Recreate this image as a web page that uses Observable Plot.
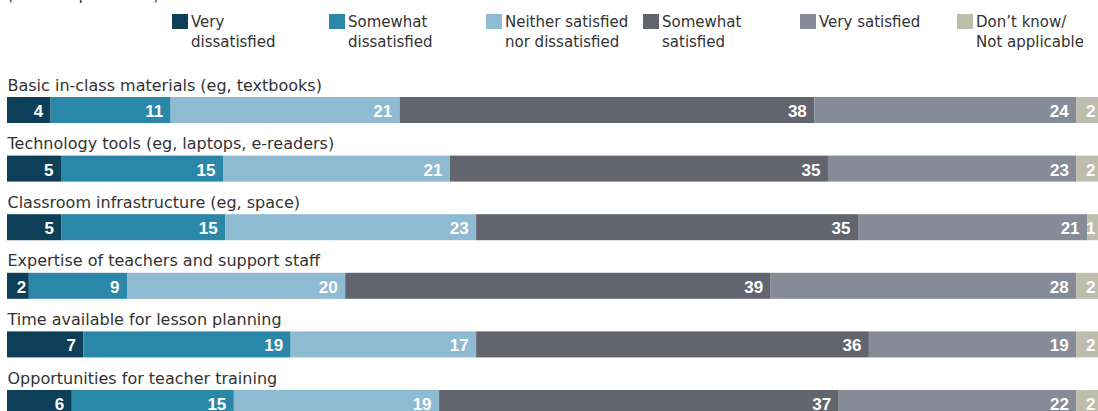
<!DOCTYPE html>
<html>
<head>
<meta charset="utf-8">
<script src="https://cdn.jsdelivr.net/npm/d3@7"></script>
<script src="https://cdn.jsdelivr.net/npm/@observablehq/plot@0.6"></script>
<style>
  html, body { margin: 0; padding: 0; background: #fff; overflow: hidden; }
  #wrap { position: relative; width: 1098px; height: 411px; font-family: "DejaVu Sans", sans-serif; color: #333; }
  #unit { position: absolute; left: 7px; top: -15px; font-size: 16px; line-height: 20px; white-space: nowrap; }
  #legend { position: absolute; left: 172px; top: 12px; display: flex; }
  .item { width: 157px; display: flex; align-items: flex-start; font-size: 15px; line-height: 20px; }
  .sw { width: 16px; height: 15px; margin-top: 2px; margin-right: 3px; flex: none; }
  #chart { position: absolute; left: 0; top: 0; }
</style>
</head>
<body>
<div id="wrap">
  <div id="unit">(% of respondents)</div>
  <div id="legend"></div>
  <div id="chart"></div>
</div>
<script>
const categories = [
  "Basic in-class materials (eg, textbooks)",
  "Technology tools (eg, laptops, e-readers)",
  "Classroom infrastructure (eg, space)",
  "Expertise of teachers and support staff",
  "Time available for lesson planning",
  "Opportunities for teacher training"
];
const responses = [
  "Very dissatisfied",
  "Somewhat dissatisfied",
  "Neither satisfied nor dissatisfied",
  "Somewhat satisfied",
  "Very satisfied",
  "Don’t know/Not applicable"
];
const legendLabels = [
  ["Very", "dissatisfied"],
  ["Somewhat", "dissatisfied"],
  ["Neither satisfied", "nor dissatisfied"],
  ["Somewhat", "satisfied"],
  ["Very satisfied"],
  ["Don’t know/", "Not applicable"]
];
const colors = ["#0e3f58", "#2b87a8", "#8ebad2", "#62656e", "#858b97", "#bdbdac"];

const veryDissatisfied     = [4, 5, 5, 2, 7, 6];
const somewhatDissatisfied = [11, 15, 15, 9, 19, 15];
const neither              = [21, 21, 23, 20, 17, 19];
const somewhatSatisfied    = [38, 35, 35, 39, 36, 37];
const verySatisfied        = [24, 23, 21, 28, 19, 22];
const dontKnow             = [2, 2, 1, 2, 2, 2];

const series = [veryDissatisfied, somewhatDissatisfied, neither, somewhatSatisfied, verySatisfied, dontKnow];

// build stacked, normalized rows
const rows = [];
categories.forEach((cat, i) => {
  const total = d3.sum(series, s => s[i]);
  let acc = 0;
  series.forEach((s, j) => {
    const v = s[i];
    rows.push({category: cat, response: responses[j], value: v, x1: acc / total * 100, x2: (acc + v) / total * 100});
    acc += v;
  });
});

// legend
const legend = document.getElementById("legend");
legendLabels.forEach((lines, j) => {
  const it = document.createElement("div");
  it.className = "item";
  const sw = document.createElement("div");
  sw.className = "sw";
  sw.style.background = colors[j];
  const tx = document.createElement("div");
  tx.innerHTML = lines.join("<br>");
  it.appendChild(sw);
  it.appendChild(tx);
  legend.appendChild(it);
});

const step = 58.6, band = 26;
const pIn = 1 - band / step;
const top0 = 97 - step * pIn / 2;

const numFont = "Liberation Sans, Arial, sans-serif";
const chart = Plot.plot({
  width: 1098,
  height: 411,
  marginLeft: 7,
  marginRight: 0,
  marginTop: 0,
  marginBottom: 0,
  style: {fontFamily: "DejaVu Sans, sans-serif", background: "transparent", overflow: "visible"},
  x: {domain: [0, 100], axis: null},
  y: {type: "band", domain: categories, range: [top0, top0 + step * categories.length], paddingInner: pIn, paddingOuter: pIn / 2, round: false, axis: null},
  color: {domain: responses, range: colors},
  marks: [
    Plot.barX(rows, {x1: "x1", x2: "x2", y: "category", fill: "response"}),
    Plot.text(rows.filter(d => d.value > 2), {x: "x2", y: "category", text: d => String(d.value), textAnchor: "end", dx: -8, dy: 1, fill: "white", fontWeight: "bold", fontSize: 17, fontFamily: numFont}),
    Plot.text(rows.filter(d => d.value <= 2), {x: "x2", y: "category", text: d => String(d.value), textAnchor: "end", dx: -3, dy: 1, fill: "white", fontWeight: "bold", fontSize: 17, fontFamily: numFont}),
    Plot.text(categories, {y: d => d, text: d => d, frameAnchor: "left", textAnchor: "start", dy: -25, fill: "#333", fontSize: 16})
  ]
});
document.getElementById("chart").appendChild(chart);
</script>
</body>
</html>
